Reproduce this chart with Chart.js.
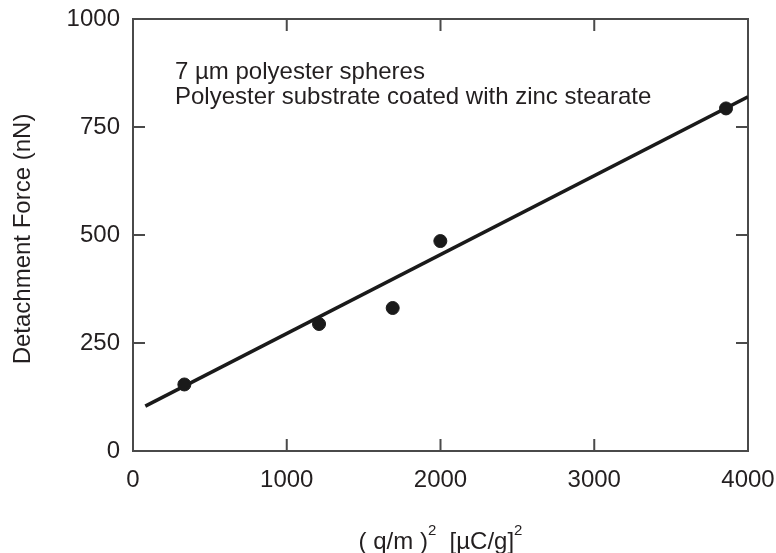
<!DOCTYPE html>
<html>
<head>
<meta charset="utf-8">
<script src="https://cdn.jsdelivr.net/npm/chart.js@4.4.1/dist/chart.umd.min.js"></script>
<style>
  html, body { margin: 0; padding: 0; background: #fff; }
</style>
</head>
<body>
<canvas id="forceChart" width="776" height="553"></canvas>
<script>
// measured points: (q/m)^2 vs detachment force
const chargeSq = [334, 1210, 1689, 1999, 3857];
const detachForce = [154, 294, 331, 486, 793];
// fitted straight line, two end points
const fitX = [80, 4000];
const fitY = [104, 820];
const xTicks = [0, 1000, 2000, 3000, 4000];
const yTicks = [0, 250, 500, 750, 1000];
const noteLines = ['7 \u00b5m polyester spheres', 'Polyester substrate coated with zinc stearate'];

const FONT = '"Liberation Sans", Arial, sans-serif';
const INK = '#231f20';
const AXIS = '#4a4a4a';

// frame, inward ticks and texts
const decorations = {
    id: 'decorations',
    beforeDatasetsDraw: function(chart) {
        const ctx = chart.ctx;
        const area = chart.chartArea;
        const xs = chart.scales.x;
        const ys = chart.scales.y;
        const tick = 12;

        ctx.save();
        ctx.strokeStyle = AXIS;
        ctx.lineWidth = 2;
        ctx.strokeRect(area.left, area.top, area.right - area.left, area.bottom - area.top);

        ctx.beginPath();
        xTicks.forEach(function(v) {
            const px = xs.getPixelForValue(v);
            ctx.moveTo(px, area.bottom);
            ctx.lineTo(px, area.bottom - tick);
            ctx.moveTo(px, area.top);
            ctx.lineTo(px, area.top + tick);
        });
        yTicks.forEach(function(v) {
            const py = ys.getPixelForValue(v);
            ctx.moveTo(area.left, py);
            ctx.lineTo(area.left + tick, py);
            ctx.moveTo(area.right, py);
            ctx.lineTo(area.right - tick, py);
        });
        ctx.stroke();
        ctx.restore();
    },
    afterDraw: function(chart) {
        const ctx = chart.ctx;
        const area = chart.chartArea;

        ctx.save();
        ctx.fillStyle = INK;
        ctx.textBaseline = 'alphabetic';

        // note inside the plot
        ctx.font = '24px ' + FONT;
        ctx.textAlign = 'left';
        ctx.fillText(noteLines[0], area.left + 42, 79);
        ctx.fillText(noteLines[1], area.left + 42, 104);

        // y title
        ctx.save();
        ctx.translate(30, (area.top + area.bottom) / 2 + 4);
        ctx.rotate(-Math.PI / 2);
        ctx.textAlign = 'center';
        ctx.font = '24px ' + FONT;
        ctx.fillText('Detachment Force (nN)', 0, 0);
        ctx.restore();

        // x title with superscripts
        const parts = [
            { t: '( q/m )', sup: false },
            { t: '2', sup: true },
            { t: '  [\u00b5C/g]', sup: false },
            { t: '2', sup: true }
        ];
        const fontFor = function(p) { return (p.sup ? '15px ' : '24px ') + FONT; };
        let total = 0;
        parts.forEach(function(p) {
            ctx.font = fontFor(p);
            total += ctx.measureText(p.t).width;
        });
        let x = (area.left + area.right) / 2 - total / 2;
        const base = 549;
        ctx.textAlign = 'left';
        parts.forEach(function(p) {
            ctx.font = fontFor(p);
            ctx.fillText(p.t, x, p.sup ? base - 14 : base);
            x += ctx.measureText(p.t).width;
        });
        ctx.restore();
    }
};

// drop the label overflow padding so the plot box sits where the layout says
function noOverflow(s) {
    s.paddingLeft = 0;
    s.paddingRight = 0;
    s.paddingTop = 0;
    s.paddingBottom = 0;
}

const ctx = document.getElementById('forceChart').getContext('2d');
new Chart(ctx, {
    type: 'scatter',
    data: {
        datasets: [{
            label: 'fit',
            data: fitX.map(function(v, i) { return { x: v, y: fitY[i] }; }),
            showLine: true,
            borderColor: '#1a1a1a',
            borderWidth: 3.5,
            pointRadius: 0,
            order: 2
        }, {
            label: 'measured',
            data: chargeSq.map(function(v, i) { return { x: v, y: detachForce[i] }; }),
            showLine: false,
            pointRadius: 6.5,
            pointBackgroundColor: '#1a1a1a',
            pointBorderColor: '#1a1a1a',
            order: 1
        }]
    },
    options: {
        responsive: false,
        animation: false,
        layout: { padding: { top: 19, right: 28, left: 0, bottom: 0 } },
        plugins: {
            legend: { display: false },
            tooltip: { enabled: false }
        },
        scales: {
            x: {
                type: 'linear',
                min: 0,
                max: 4000,
                afterBuildTicks: function(s) { s.ticks = xTicks.map(function(v) { return { value: v }; }); },
                afterFit: function(s) { s.height = 102; noOverflow(s); },
                grid: { display: false, drawTicks: false },
                border: { display: false },
                ticks: {
                    color: INK, padding: 15, maxRotation: 0,
                    font: { family: FONT, size: 24 },
                    callback: function(v) { return String(v); }
                }
            },
            y: {
                type: 'linear',
                min: 0,
                max: 1000,
                afterBuildTicks: function(s) { s.ticks = yTicks.map(function(v) { return { value: v }; }); },
                afterFit: function(s) { s.width = 133; noOverflow(s); },
                grid: { display: false, drawTicks: false },
                border: { display: false },
                ticks: {
                    color: INK, padding: 13,
                    font: { family: FONT, size: 24 },
                    callback: function(v) { return String(v); }
                }
            }
        }
    },
    plugins: [decorations]
});
</script>
</body>
</html>
